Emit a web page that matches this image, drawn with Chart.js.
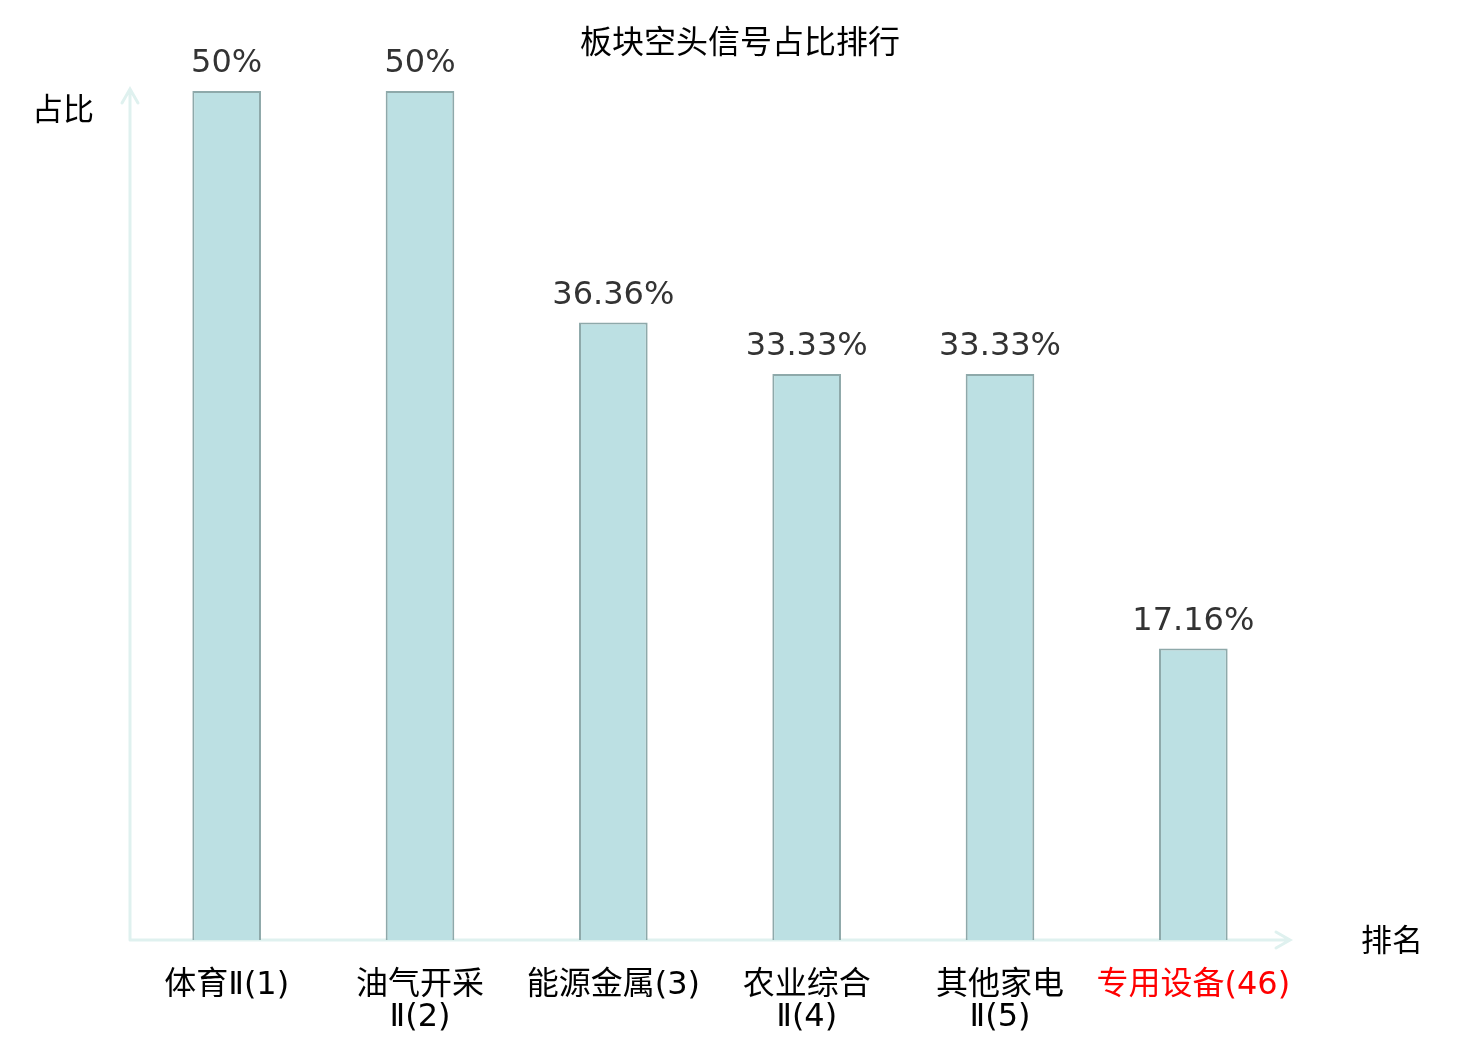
<!DOCTYPE html>
<html>
<head>
<meta charset="utf-8">
<script src="https://cdn.jsdelivr.net/npm/chart.js@4.4.0/dist/chart.umd.min.js"></script>
<style>
  html, body { margin: 0; padding: 0; background: #fff; }
  #wrap { width: 1480px; height: 1040px; }
</style>
</head>
<body>
<div id="wrap"><canvas id="chart"></canvas></div>
<script>
// 数据
const categories = [
    ['体育Ⅱ(1)'],
    ['油气开采', 'Ⅱ(2)'],
    ['能源金属(3)'],
    ['农业综合', 'Ⅱ(4)'],
    ['其他家电', 'Ⅱ(5)'],
    ['专用设备(46)']
];
const ratios = [50, 50, 36.36, 33.33, 33.33, 17.16];
const highlightIndex = 5;

const chartTitle = '板块空头信号占比排行';
const yAxisName = '占比';
const xAxisName = '排名';

const cjkFont = '"DejaVu Sans", "Noto Sans CJK SC", sans-serif';

function formatRatio(v) {
    return (Math.round(v * 100) / 100) + '%';
}

// 坐标轴箭头、标题和数值标签
const decorPlugin = {
    id: 'decor',
    beforeDatasetsDraw(chart) {
        const ctx = chart.ctx;
        const a = chart.chartArea;
        ctx.save();
        ctx.strokeStyle = '#dff1ef';
        ctx.lineWidth = 3;
        ctx.lineCap = 'round';
        ctx.beginPath();
        // y轴
        ctx.moveTo(a.left, a.bottom);
        ctx.lineTo(a.left, a.top - 2);
        ctx.moveTo(a.left - 8, a.top + 12);
        ctx.lineTo(a.left, a.top - 2);
        ctx.lineTo(a.left + 8, a.top + 12);
        // x轴
        ctx.moveTo(a.left, a.bottom);
        ctx.lineTo(a.right, a.bottom);
        ctx.moveTo(a.right - 14, a.bottom - 8);
        ctx.lineTo(a.right, a.bottom);
        ctx.lineTo(a.right - 14, a.bottom + 8);
        ctx.stroke();
        ctx.restore();
    },
    afterDatasetsDraw(chart) {
        const ctx = chart.ctx;
        ctx.save();
        ctx.fillStyle = '#000';
        ctx.textAlign = 'center';
        ctx.textBaseline = 'middle';
        ctx.font = '32px ' + cjkFont;
        ctx.fillText(chartTitle, 740, 45);
        ctx.font = '31px ' + cjkFont;
        ctx.fillText(yAxisName, 63, 112);
        ctx.fillText(xAxisName, 1392, 943);

        ctx.fillStyle = '#333';
        ctx.font = '32px "DejaVu Sans", sans-serif';
        ctx.textBaseline = 'alphabetic';
        const meta = chart.getDatasetMeta(0);
        meta.data.forEach(function(bar, i) {
            ctx.fillText(formatRatio(ratios[i]), bar.x, bar.y - 19);
        });
        ctx.restore();
    }
};

const ctx = document.getElementById('chart').getContext('2d');
new Chart(ctx, {
    type: 'bar',
    data: {
        labels: categories,
        datasets: [{
            data: ratios,
            backgroundColor: '#bce0e3',
            borderColor: '#8ea9aa',
            borderWidth: 2,
            borderSkipped: 'bottom',
            categoryPercentage: 1,
            barPercentage: 0.355
        }]
    },
    options: {
        responsive: true,
        maintainAspectRatio: false,
        animation: false,
        layout: { padding: { top: 91, left: 130, right: 190, bottom: 0 } },
        plugins: {
            legend: { display: false },
            tooltip: { enabled: false }
        },
        scales: {
            x: {
                grid: { display: false, drawTicks: false },
                border: { display: false },
                ticks: {
                    padding: 30,
                    font: { size: 32, family: cjkFont, lineHeight: 1.0 },
                    color: function(c) {
                        return c.index === highlightIndex ? '#f00' : '#000';
                    },
                    maxRotation: 0,
                    autoSkip: false
                },
                afterFit: function(scale) { scale.height = 100; }
            },
            y: {
                display: false,
                min: 0,
                max: 50
            }
        }
    },
    plugins: [decorPlugin]
});
</script>
</body>
</html>
